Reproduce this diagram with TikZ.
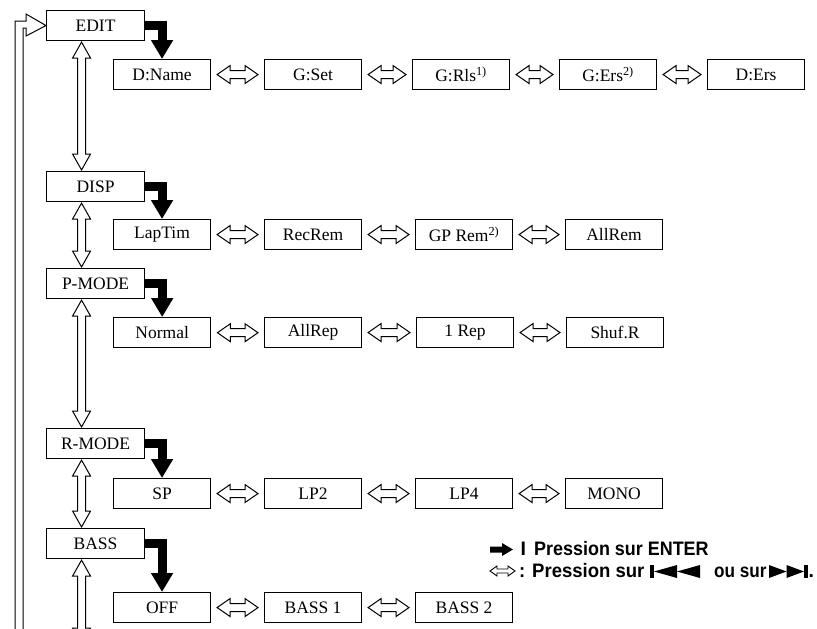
\documentclass[tikz,border=0pt]{standalone}
\usepackage{fontspec}
\setmainfont{Liberation Serif}
\newfontfamily\legfont{Liberation Sans}
\usetikzlibrary{calc,arrows.meta}
\tikzset{
  box/.style={draw, line width=1.1pt, minimum height=30pt, inner sep=0pt, anchor=north west,
    font=\fontsize{17.5}{20}\selectfont},
  hbox/.style={box, minimum width=98pt},
  cbox/.style={box, minimum width=97pt},
  enterarrow/.style={line width=9pt, -{Triangle[length=19pt,width=21pt]}},
  hol/.style={draw, line width=1pt, fill=white, line join=miter},
  legtext/.style={anchor=base west, inner sep=0pt, font=\legfont\bfseries\fontsize{19.5}{22}\selectfont},
}
\newcommand\harr[2]{%
  \draw[hol] let \p1=($(#1.east)+(6pt,0)$), \p2=($(#2.west)-(6pt,0)$) in
   (\x1,\y1) -- (\x1+13pt,\y1+9pt) -- (\x1+13pt,\y1+4pt) -- (\x2-13pt,\y1+4pt)
   -- (\x2-13pt,\y1+9pt) -- (\x2,\y1) -- (\x2-13pt,\y1-9pt) -- (\x2-13pt,\y1-4pt)
   -- (\x1+13pt,\y1-4pt) -- (\x1+13pt,\y1-9pt) -- cycle;}
\newcommand\varr[2]{%
  \draw[hol] let \p1=#1, \p2=#2 in
   (\x1,\y1) -- (\x1+9pt,\y1-16pt) -- (\x1+4pt,\y1-16pt) -- (\x1+4pt,\y2+16pt)
   -- (\x1+9pt,\y2+16pt) -- (\x1,\y2) -- (\x1-9pt,\y2+16pt) -- (\x1-4pt,\y2+16pt)
   -- (\x1-4pt,\y1-16pt) -- (\x1-9pt,\y1-16pt) -- cycle;}
\begin{document}
\begin{tikzpicture}[x=1pt,y=-1pt]
\useasboundingbox (0,0) rectangle (817,629);
\clip (0,0) rectangle (817,629);
% header boxes
\node[hbox] (edit) at (46,10) {EDIT};
\node[hbox] (disp) at (46,171) {DISP};
\node[hbox] (pmode) at (46,268) {P-MODE};
\node[hbox] (rmode) at (46,428) {R-MODE};
\node[hbox] (bass) at (46,528) {BASS};
% row 1
\node[cbox] (dname) at (113,59) {D:Name};
\node[cbox] (gset) at (264,59) {G:Set};
\node[cbox] (grls) at (412,59) {G:Rls\textsuperscript{1)}};
\node[cbox] (gers) at (559,59) {G:Ers\textsuperscript{2)}};
\node[cbox] (ders) at (707,59) {D:Ers};
% row 2
\node[cbox] (laptim) at (113,219) {LapTim};
\node[cbox] (recrem) at (264,219) {RecRem};
\node[cbox] (gprem) at (415,219) {GP Rem\textsuperscript{2)}};
\node[cbox] (allrem) at (565,219) {AllRem};
% row 3
\node[cbox, line width=1.4pt] (normal) at (113,317) {Normal};
\node[cbox] (allrep) at (264,317) {AllRep};
\node[cbox] (onerep) at (416,317) {1 Rep};
\node[cbox] (shuf) at (566,317) {Shuf.R};
% row 4
\node[cbox] (sp) at (113,478) {SP};
\node[cbox] (lp2) at (264,478) {LP2};
\node[cbox] (lp4) at (415,478) {LP4};
\node[cbox] (mono) at (565,478) {MONO};
% row 5
\node[cbox] (off) at (113,592) {OFF};
\node[cbox] (bass1) at (264,592) {BASS 1};
\node[cbox] (bass2) at (415,592) {BASS 2};
% enter arrows
\draw[enterarrow] (edit.east) -| (dname.north);
\draw[enterarrow] (disp.east) -| (laptim.north);
\draw[enterarrow] (pmode.east) -| (normal.north);
\draw[enterarrow] (rmode.east) -| (sp.north);
\draw[enterarrow] (bass.east) -| (off.north);
% horizontal double arrows
\harr{dname}{gset}\harr{gset}{grls}\harr{grls}{gers}\harr{gers}{ders}
\harr{laptim}{recrem}\harr{recrem}{gprem}\harr{gprem}{allrem}
\harr{normal}{allrep}\harr{allrep}{onerep}\harr{onerep}{shuf}
\harr{sp}{lp2}\harr{lp2}{lp4}\harr{lp4}{mono}
\harr{off}{bass1}\harr{bass1}{bass2}
% vertical double arrows
\varr{($(edit.south)+(-14pt,-1pt)$)}{($(disp.north)+(-14pt,1pt)$)}
\varr{($(disp.south)+(-14pt,-1pt)$)}{($(pmode.north)+(-14pt,1pt)$)}
\varr{($(pmode.south)+(-14pt,-1pt)$)}{($(rmode.north)+(-14pt,1pt)$)}
\varr{($(rmode.south)+(-14pt,-1pt)$)}{($(bass.north)+(-14pt,1pt)$)}
\coordinate (bassend) at (81,644);
\varr{($(bass.south)+(-14pt,-1pt)$)}{(bassend)}
% loop back to EDIT
\coordinate (loopbot) at (19,660);
\draw[hol, fill=none] ($(loopbot)+(-4,0)$) -- (15,21) -- (26,21) -- (26,14) -- (edit.west)
  -- (26,36) -- (26,28) -- (23,28) -- ($(loopbot)+(4,0)$);
% legend
\fill (490,546.5) -- (502,546.5) -- (502,543) -- (513,549.5) -- (502,556) -- (502,552.5) -- (490,552.5) -- cycle;
\node[legtext] (enterI) at (520.5,555) {I};
\node[legtext] (l1) at (534,555) {\scalebox{0.92}[1]{Pression sur ENTER}};
\draw[line width=0.9pt, line join=miter] (490,571) -- (497,566) -- (497,569) -- (508,569) -- (508,566)
  -- (515,571) -- (508,576) -- (508,573) -- (497,573) -- (497,576) -- cycle;
\node[legtext] (l2) at (519,577) {\scalebox{0.95}[1]{: Pression sur}};
\fill (650,565) rectangle (654,578);
\fill (654,571.5) -- (677,565) -- (677,578) -- cycle;
\fill (677,571.5) -- (700,565) -- (700,578) -- cycle;
\node[legtext] (l3) at (714,577) {\scalebox{0.88}[1]{ou sur}};
\fill (769,565) -- (786.5,571.5) -- (769,578) -- cycle;
\fill (786.5,565) -- (804,571.5) -- (786.5,578) -- cycle;
\fill (804,565) rectangle (808,578);
\node[legtext] (l4) at (808.5,577) {.};
\end{tikzpicture}
\end{document}
